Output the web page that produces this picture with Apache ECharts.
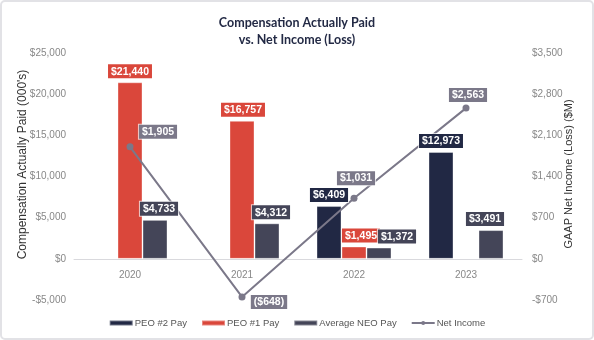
<!DOCTYPE html>
<html><head><meta charset="utf-8">
<script src="https://cdn.jsdelivr.net/npm/echarts@6/dist/echarts.min.js"></script>
<style>html,body{margin:0;padding:0;background:#fff}#c{width:594px;height:340px}</style>
</head><body><div id="c"></div>
<script>
const years = ['2020','2021','2022','2023'];
const peo2Pay = [null, null, 6409, 12973];
const peo1Pay = [21440, 16757, 1495, null];
const neoPay = [4733, 4312, 1372, 3491];
const netIncome = [1905, -648, 1031, 2563];
const leftTicks = {min:-5000, max:25000, interval:5000};
const rightTicks = {min:-700, max:3500, interval:700};

const C2 = '#212844', C1 = '#da473b', CN = '#444558', CL = '#7b7889';
function money(v){ const s = Math.abs(v).toLocaleString('en-US'); return v<0 ? '-$'+s : '$'+s; }
function moneyParen(v){ const s = Math.abs(v).toLocaleString('en-US'); return v<0 ? '($'+s+')' : '$'+s; }
const font = '"Liberation Sans", Arial, sans-serif';
function barLabel(bg){ return {show:true, position:'top', distance:4, color:'#fff', fontWeight:'bold', fontSize:10.5, fontFamily:font,
  backgroundColor:bg, borderColor:'rgba(255,255,255,0.7)', borderWidth:1, padding:[2,3,1,3], formatter:p=>moneyParen(p.value)}; }
function withOffsets(vals, offs){ return vals.map((v,i)=> v==null ? null : ({value:v, label:{offset:offs[i]}})); }
const peo2Off = [[0,0],[0,0],[0,0],[0,0]];
const peo1Off = [[0,0],[1,0],[7,0],[0,0]];
const neoOff = [[4,0],[4,0],[18,0],[-6,0]];
const lineOff = [[28,-15],[27,5],[2,-20],[2,-13]];

const gridTop = 53, gridBottom = 40, H = 340;
const zeroOffset = (H - gridTop - gridBottom) * (0 - leftTicks.min) / (leftTicks.max - leftTicks.min);

const barBase = {type:'bar', barWidth:25, barGap:'0%'};
function barSeries(name, vals, color){
  return Object.assign({}, barBase, {name, data:vals, z:2,
    itemStyle:{color, borderColor:'rgba(255,255,255,0.35)', borderWidth:1}, label:{show:false}});
}
// transparent copies on an overlaid hidden axis, so the value labels sit above the line
function labelSeries(name, vals, offs, color){
  return Object.assign({}, barBase, {name:name+' (label)', xAxisIndex:1, data:withOffsets(vals, offs), z:10, silent:true,
    itemStyle:{color:'rgba(0,0,0,0)'}, label:barLabel(color)});
}

const chart = echarts.init(document.getElementById('c'));
chart.setOption({
  animation:false,
  title:{text:'Compensation Actually Paid\nvs. Net Income (Loss)', left:'center', top:9,
    textStyle:{fontSize:12.5, fontWeight:'bold', color:'#232a45', fontFamily:'Lato', lineHeight:17}},
  graphic:[{type:'rect', shape:{x:1,y:1,width:592,height:338,r:4}, style:{fill:'none', stroke:'#e2e2e6', lineWidth:2}, silent:true}],
  grid:{left:74, right:72, top:gridTop, bottom:gridBottom},
  legend:{bottom:7, left:'center', itemWidth:23, itemHeight:5, itemGap:14,
    textStyle:{fontSize:9.5, color:'#555', fontFamily:font, padding:[0,0,0,-3]},
    data:[{name:'PEO #2 Pay', icon:'rect'},{name:'PEO #1 Pay', icon:'rect'},{name:'Average NEO Pay', icon:'rect'},{name:'Net Income'}]},
  xAxis:[
    {type:'category', data:years, axisTick:{show:false}, offset:-zeroOffset,
     axisLine:{onZero:false, lineStyle:{color:'#d9d9dd'}}, axisLabel:{color:'#888', fontSize:10, fontFamily:font, margin:11}},
    {type:'category', data:years, show:false}
  ],
  yAxis:[
    {type:'value', min:leftTicks.min, max:leftTicks.max, interval:leftTicks.interval, splitLine:{show:false},
     axisLabel:{formatter:money, color:'#888', fontSize:10, fontFamily:font, margin:8},
     name:"Compensation Actually Paid (000's)", nameLocation:'middle', nameGap:45, nameMoveOverlap:false,
     nameTextStyle:{fontSize:12, color:'#333', fontFamily:font, padding:[0,0,0,24]}},
    {type:'value', min:rightTicks.min, max:rightTicks.max, interval:rightTicks.interval, splitLine:{show:false},
     axisLabel:{formatter:money, color:'#888', fontSize:10, fontFamily:font, margin:10},
     name:'GAAP Net Income (Loss) ($M)', nameLocation:'middle', nameGap:41, nameRotate:90, nameMoveOverlap:false,
     nameTextStyle:{fontSize:11, color:'#333', fontFamily:font, padding:[0,0,0,5]}}
  ],
  series:[
    barSeries('PEO #2 Pay', peo2Pay, C2),
    barSeries('PEO #1 Pay', peo1Pay, C1),
    barSeries('Average NEO Pay', neoPay, CN),
    {name:'Net Income', type:'line', yAxisIndex:1, data:withOffsets(netIncome, lineOff), symbol:'circle', symbolSize:7,
     z:5, lineStyle:{color:CL, width:2}, itemStyle:{color:CL},
     label:{show:true, position:'inside', color:'#fff', fontWeight:'bold', fontSize:10.5, fontFamily:font,
       backgroundColor:CL, borderColor:'rgba(255,255,255,0.7)', borderWidth:1, padding:[2,3,1,3], formatter:p=>moneyParen(p.value)}},
    labelSeries('PEO #2 Pay', peo2Pay, peo2Off, C2),
    labelSeries('PEO #1 Pay', peo1Pay, peo1Off, C1),
    labelSeries('Average NEO Pay', neoPay, neoOff, CN)
  ]
});
</script></body></html>
